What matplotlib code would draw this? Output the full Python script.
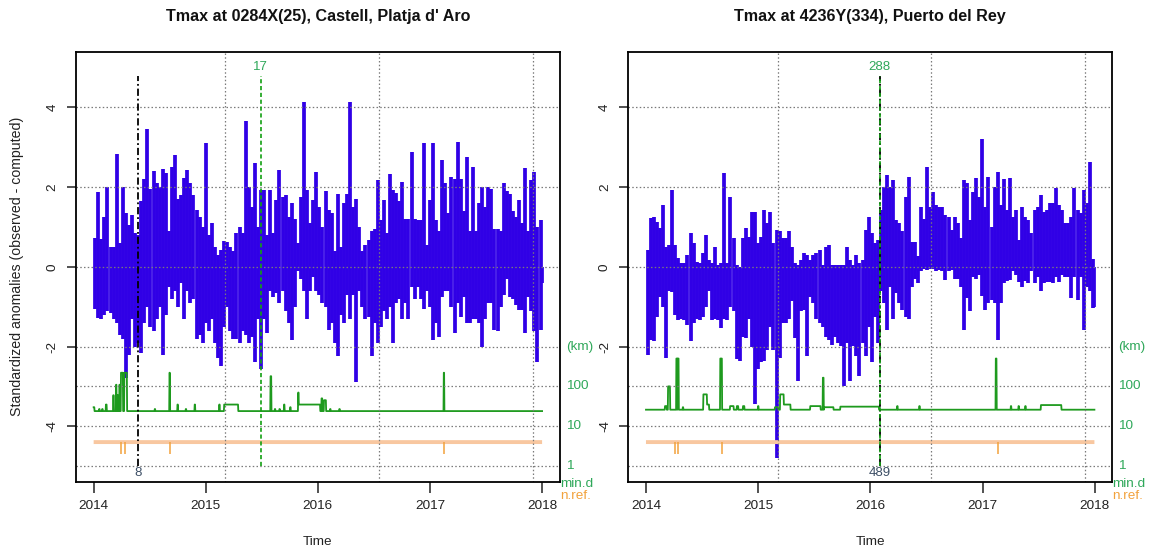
import numpy as np
import matplotlib
matplotlib.use("Agg")
import matplotlib.pyplot as plt

plt.rcParams['font.family'] = ['Liberation Sans', 'DejaVu Sans']

# ---- data (days counted from 2014-01-01, anomalies binned every 10 days) ----
ORIGIN = np.datetime64('2014-01-01')
BIN = 10
LAST_DAY = 1460

years = [2014, 2015, 2016, 2017, 2018]

# upper / lower envelope of the daily anomalies inside each 10-day bin
left_hi = [
    0.72, 1.88, 0.7, 1.25, 2.0, 0.5, 0.5, 2.83, 0.6, 2.0,
    1.35, 1.05, 1.3, 0.85, 0.8, 1.65, 2.2, 3.47, 1.95, 2.4,
    2.1, 2.0, 2.45, 2.35, 0.9, 2.5, 2.8, 1.7, 1.8, 2.22,
    2.42, 2.1, 1.8, 1.43, 1.25, 1.0, 3.1, 0.8, 1.1, 0.5,
    0.3, 0.43, 0.65, 0.63, 0.5, 0.4, 0.85, 1.0,
    0.84, 3.67, 2.0, 1.5, 2.6, 1.0, 1.92, 1.92, 0.8, 1.92,
    0.85, 1.67, 2.42, 1.75, 1.8, 1.25, 1.6, 1.2, 0.6, 1.75,
    4.13, 1.92, 1.1, 1.67, 2.38, 1.5, 1.0, 1.9, 1.42, 1.35,
    0.4, 1.83, 0.5, 1.6, 1.83, 4.13, 1.5, 1.7, 1.0, 0.4,
    0.55, 0.68, 0.9, 0.95, 2.18, 1.18, 1.67, 0.85, 2.34,
    1.92, 1.85, 1.65, 2.13, 1.2, 1.2, 2.88, 1.2, 1.17, 1.17,
    3.1, 0.55, 1.67, 3.1, 1.17, 0.9, 2.67, 2.1, 1.35, 2.25,
    2.2, 3.13, 2.2, 1.4, 2.76, 0.9, 2.5, 0.9, 1.6, 2.0,
    1.5, 2.0, 1.95, 0.95, 0.95, 0.9, 2.1, 1.9, 1.83, 1.4,
    1.25, 1.67, 1.1, 2.47, 0.9, 2.18, 2.38, 1.0, 1.17, 0.0,
]
left_lo = [
    -1.05, -1.28, -1.3, -1.2, -1.1, -1.15, -1.3, -1.4, -1.7, -1.8,
    -2.8, -2.2, -1.3, -2.0, -1.9, -2.15, -1.4, -1.0, -1.5, -1.6,
    -1.3, -1.0, -2.2, -1.2, -0.5, -0.8, -0.6, -1.0, -0.4, -1.3,
    -0.6, -0.9, -0.8, -1.8, -1.7, -1.9, -1.4, -1.6, -1.3, -1.9,
    -2.3, -2.5, -1.5, -1.0, -1.6, -1.8, -1.8, -1.9,
    -1.6, -1.7, -1.9, -1.75, -2.4, -1.3, -2.57, -1.3, -1.66, -0.6,
    -0.75, -0.65, -0.9, -0.6, -1.1, -1.4, -1.83, -1.0, -0.1, -0.3,
    -0.6, -1.3, -0.6, -0.25, -0.6, -0.7, -0.9, -1.0, -1.58, -1.4,
    -1.9, -2.24, -1.2, -1.4, -0.7, -1.3, -0.7, -2.9, -0.6, -1.0,
    -1.3, -1.25, -2.24, -1.4, -1.9, -1.5, -1.1, -1.3, -1.0,
    -1.9, -0.9, -0.8, -1.3, -0.9, -1.3, -0.5, -0.8, -0.5, -0.8,
    -1.05, -0.6, -1.0, -1.83, -1.4, -1.75, -0.75, -0.6, -0.6, -1.0,
    -1.66, -0.9, -1.25, -0.75, -1.4, -1.4, -1.3, -1.3, -1.4, -2.0,
    -1.3, -0.9, -0.9, -1.58, -1.6, -1.0, -0.7, -0.3, -0.75, -0.8,
    -0.95, -1.08, -1.08, -1.66, -0.75, -1.1, -1.6, -2.4, -1.58, -0.4,
]
right_hi = [
    0.43, 1.22, 1.26, 1.12, 0.97, 1.55, 0.5, 0.55, 1.92, 0.55,
    0.22, 0.1, 0.09, 0.3, 0.84, 0.6, 0.13, 0.09, 0.35, 0.8,
    0.18, 0.09, 0.5, 0.05, 0.09, 2.36, 0.09, 1.76, 0.72, 0.05,
    0.0, 0.72, 0.97, 0.76, 1.38, 1.38, 0.6, 0.76, 1.42, 1.1,
    1.38, 0.6, 0.92, 0.9, 0.72, 0.72, 0.9, 0.5,
    0.1, 0.05, 0.18, 0.35, 0.3, 0.18, 0.3, 0.35, 0.42, 0.05,
    0.5, 0.55, 0.05, 0.05, 0.05, 0.05, 0.05, 0.5, 0.18, 0.05,
    0.3, 0.1, 0.18, 0.92, 1.26, 0.84, 0.6, 0.68, 1.42, 2.0,
    2.3, 2.0, 2.18, 1.17, 1.1, 0.9, 1.75, 2.26, 0.63, 0.63,
    0.26, 1.5, 1.2, 2.5, 1.5, 1.88, 1.55, 1.5, 1.5,
    1.3, 1.25, 0.92, 1.26, 1.1, 0.72, 2.18, 2.1, 1.17, 1.88,
    2.22, 1.75, 3.22, 1.5, 2.26, 1.0, 2.0, 2.38, 1.55, 2.2,
    1.42, 2.22, 1.26, 1.42, 0.68, 1.5, 1.26, 1.17, 0.84, 1.42,
    1.5, 1.8, 1.38, 1.42, 1.6, 1.6, 1.97, 1.55, 1.42, 1.1,
    1.1, 1.26, 1.97, 1.42, 1.35, 1.92, 1.6, 2.63, 0.2, 0.0,
]
right_lo = [
    -2.2, -1.83, -1.87, -1.25, -0.75, -1.0, -2.28, -0.6, -0.62, -1.2,
    -1.33, -1.3, -1.33, -1.45, -1.87, -1.4, -1.3, -1.33, -1.25, -1.0,
    -0.6, -1.33, -1.3, -1.33, -1.53, -1.3, -1.33, -1.0, -1.1, -2.32,
    -2.37, -1.75, -1.78, -1.3, -2.0, -3.45, -2.57, -2.4, -2.37, -2.08,
    -1.5, -2.08, -4.8, -2.3, -1.4, -1.4, -1.3, -0.85,
    -1.78, -2.87, -1.1, -1.08, -2.24, -0.75, -0.9, -1.3, -1.4, -1.5,
    -1.75, -1.83, -1.95, -1.75, -1.9, -1.99, -3.0, -1.9, -2.87, -1.99,
    -2.24, -2.74, -1.9, -2.24, -1.5, -2.4, -1.25, -1.9, -0.6, -0.9,
    -1.58, -0.5, -1.3, -0.65, -0.9, -1.08, -1.25, -1.3, -0.5, -0.3,
    -0.4, -0.1, -0.05, -0.08, -0.05, -0.05, -0.1, -0.08, -0.1,
    -0.33, -0.1, -0.08, -0.3, -0.3, -0.5, -1.58, -0.78, -1.12, -0.25,
    -0.3, -0.2, -0.74, -1.08, -0.9, -0.83, -0.9, -1.83, -0.9, -0.4,
    -0.35, -0.33, -0.1, -0.2, -0.37, -0.5, -0.35, -0.4, -0.1, -0.4,
    -0.25, -0.6, -0.4, -0.37, -0.37, -0.4, -0.25, -0.37, -0.2, -0.25,
    -0.25, -0.78, -0.25, -0.82, -0.25, -1.58, -0.5, -0.6, -1.03, -1.0,
]

# distance to the nearest reference (km): base value plus episodes (first day, last day, km)
left_mind_base = 24
left_mind_start = [0, 18, 28, 40, 64, 73, 78, 84, 89, 100, 199, 247, 273, 300, 329,
                   409, 425, 576, 590, 605, 620, 640, 666, 668, 742, 750, 770, 800, 1140]
left_mind_end = [2, 19, 29, 42, 65, 74, 79, 85, 95, 108, 200, 248, 274, 301, 330,
                 410, 470, 578, 591, 606, 621, 641, 667, 737, 744, 756, 771, 801, 1141]
left_mind_km = [30, 27, 27, 35, 60, 110, 60, 110, 220, 220, 27, 220, 35, 27, 35,
                35, 35, 180, 27, 27, 35, 30, 70, 35, 50, 45, 27, 27, 220]

right_mind_base = 26
right_mind_start = [62, 72, 99, 103, 120, 187, 199, 242, 274, 296, 316, 365, 420, 437, 449,
                    535, 576, 580, 633, 818, 890, 1139, 1188, 1213, 1235, 1286]
right_mind_end = [67, 78, 101, 106, 121, 198, 205, 247, 285, 300, 320, 366, 430, 448, 470,
                  568, 578, 610, 758, 819, 891, 1141, 1189, 1214, 1236, 1352]
right_mind_km = [32, 100, 500, 500, 30, 63, 35, 500, 32, 32, 32, 32, 30, 63, 35,
                 32, 165, 30, 31, 32, 32, 500, 32, 32, 32, 34]

# number of references: 4, dropping to 2 on a few days
nref_base = 4
nref_low = 2
left_nref_days = [90, 103, 248, 1140]
right_nref_days = [94, 105, 247, 1146]

# detected breaks: (day, SNHT value)
left_break_black = (146, "8")
left_break_green = (544, "17")
right_break_black = (761, "489")
right_break_green = (761, "288")

titles = ["Tmax at 0284X(25), Castell, Platja d' Aro",
          "Tmax at 4236Y(334), Puerto del Rey"]

# ---- styling ----
BLUE = "#3000E6"
GREEN = "#1E9A1E"
GREEN_TXT = "#2FA85A"
ORANGE_LIGHT = "#F8C7A0"
ORANGE = "#F2A23C"
GRID = "#7A7A7A"
DOT = (0, (1.2, 1.8))


def day_of(s):
    return int((np.datetime64(s) - ORIGIN).astype(int))


year_days = [day_of(f"{y}-01-01") for y in years]
# R's grid() uses the default axis ticks of the Date axis: 16500, 17000, 17500
grid_days = [int((np.datetime64(v, 'D') - ORIGIN).astype(int)) for v in (16500, 17000, 17500)]


def daily_series(base, starts, ends, vals):
    s = np.full(LAST_DAY + 1, float(base))
    for a, b, v in zip(starts, ends, vals):
        s[a:b + 1] = v
    return s


def draw_panel(ax, title, hi, lo, mind, nref_days, breaks, ylabel):
    span = LAST_DAY * 0.04
    ax.set_xlim(-span, LAST_DAY + span)
    ax.set_ylim(-5.4, 5.4)

    x = np.minimum(np.arange(len(hi)) * BIN + BIN / 2, LAST_DAY)
    ax.vlines(x, 0, hi, color=BLUE, lw=2.7, zorder=2)
    ax.vlines(x, lo, 0, color=BLUE, lw=2.7, zorder=2)

    days = np.arange(LAST_DAY + 1)
    ax.plot(days, np.log10(mind) - 5, color=GREEN, lw=1.3, zorder=2.5)

    nref = np.full(LAST_DAY + 1, float(nref_base))
    nref[nref_days] = nref_low
    ax.plot(days, np.full_like(days, np.log10(nref_base) - 5, dtype=float),
            color=ORANGE_LIGHT, lw=2.8, zorder=2.4, solid_capstyle='butt')
    low = np.where(nref < nref_base)[0]
    ax.vlines(low, np.log10(nref[low]) - 5, np.log10(nref_base) - 5,
              color=ORANGE, lw=1.1, zorder=2.5)

    for yv in [4, 2, 0, -2, -3, -4, -5]:
        ax.axhline(yv, color=GRID, lw=0.9, ls=DOT, zorder=3)
    for xv in grid_days:
        ax.axvline(xv, color=GRID, lw=0.9, ls=DOT, zorder=3)

    for kind, (bd, lab) in breaks:
        if kind == "black":
            ax.vlines(bd, -5, 4.8, color="black", lw=1.3,
                      linestyles=[(0, (4, 1.6, 1, 1.6))], zorder=4)
            ax.text(bd, -5.17, lab, color="#3D4F66", fontsize=9.5,
                    ha="center", va="center", zorder=5)
        else:
            ax.vlines(bd, -5, 4.8, color="#12A012", lw=1.2,
                      linestyles=[(0, (2.5, 1.6))], zorder=4.5)
            ax.text(bd, 5.02, lab, color=GREEN_TXT, fontsize=9.5,
                    ha="center", va="center", zorder=5)

    ax.set_xticks(year_days)
    ax.set_xticklabels([str(y) for y in years])
    ax.set_yticks([-4, -2, 0, 2, 4])
    ax.set_yticklabels(["-4", "-2", "0", "2", "4"], rotation=90, va="center")
    ax.tick_params(axis="x", direction="out", length=8, width=1.1, pad=5,
                   labelsize=9.7, colors="#222222")
    ax.tick_params(axis="y", direction="out", length=6.3, width=1.1, pad=6,
                   labelsize=9.7, colors="#222222")
    for sp in ax.spines.values():
        sp.set_linewidth(1.3)
        sp.set_zorder(6)

    tr = ax.get_yaxis_transform()
    for yv, lab in [(-2, "(km)"), (-3, "100"), (-4, "10"), (-5, "1")]:
        ax.text(1.012, yv, lab, transform=tr, color=GREEN_TXT, fontsize=9.7,
                ha="left", va="center", clip_on=False)
    ax.text(1.0, -5.45, "min.d", transform=tr, color=GREEN_TXT, fontsize=9.7,
            ha="left", va="center", clip_on=False)
    ax.text(1.0, -5.76, "n.ref.", transform=tr, color=ORANGE, fontsize=9.7,
            ha="left", va="center", clip_on=False)

    ax.text(0.5, 1.081, title, transform=ax.transAxes, fontsize=11.6,
            fontweight="bold", ha="center", va="center", color="#111111")
    ax.text(0.5, -0.139, "Time", transform=ax.transAxes, fontsize=9.7,
            ha="center", va="center", color="#222222")
    if ylabel:
        ax.text(-0.122, 0.5, ylabel, transform=ax.transAxes, fontsize=10.2,
                rotation=90, ha="center", va="center", color="#222222")


fig = plt.figure(figsize=(11.49, 5.51), dpi=100)
ax1 = fig.add_axes([0.0659, 0.1252, 0.4215, 0.781])
ax2 = fig.add_axes([0.5466, 0.1252, 0.4215, 0.781])

left_mind = daily_series(left_mind_base, left_mind_start, left_mind_end, left_mind_km)
right_mind = daily_series(right_mind_base, right_mind_start, right_mind_end, right_mind_km)

draw_panel(ax1, titles[0], left_hi, left_lo, left_mind, left_nref_days,
           [("black", left_break_black), ("green", left_break_green)],
           "Standardized anomalies (observed - computed)")
draw_panel(ax2, titles[1], right_hi, right_lo, right_mind, right_nref_days,
           [("black", right_break_black), ("green", right_break_green)], None)

fig.savefig("out.png", dpi=100)
